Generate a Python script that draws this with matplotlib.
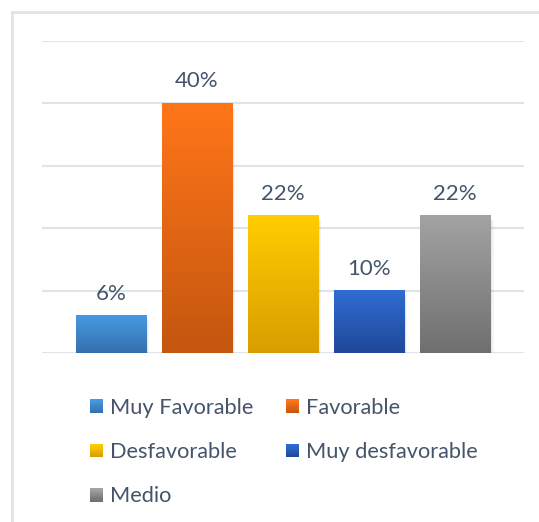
import numpy as np
import matplotlib.pyplot as plt
from matplotlib.colors import LinearSegmentedColormap
from matplotlib.patches import Rectangle
from matplotlib.legend_handler import HandlerBase
from matplotlib.lines import Line2D

plt.rcParams['font.family'] = ['Lato', 'DejaVu Sans']

categorias = ['Muy Favorable', 'Favorable', 'Desfavorable', 'Muy desfavorable', 'Medio']
porcentajes = [6, 40, 22, 10, 22]
# (arriba, abajo) de cada degradado
colores = [('#4799e2', '#3470ae'),
           ('#ff7619', '#c4560f'),
           ('#ffcd00', '#d89e00'),
           ('#306cd2', '#20479a'),
           ('#a3a3a3', '#6f6f6f')]
texto = '#44546a'
rejilla = '#dfe3ea'


class Degradado(HandlerBase):
    def __init__(self, arriba, abajo):
        super().__init__()
        self.arriba, self.abajo = arriba, abajo

    def create_artists(self, legend, orig_handle, xdescent, ydescent,
                       width, height, fontsize, trans):
        cmap = LinearSegmentedColormap.from_list('g', [self.abajo, self.arriba])
        n = 12
        lado = min(width, height)
        arts = []
        for i in range(n):
            r = Rectangle((-xdescent, -ydescent + lado * i / n), lado, lado / n + 0.3,
                          facecolor=cmap(i / (n - 1)), edgecolor='none', transform=trans)
            arts.append(r)
        return arts


fig = plt.figure(figsize=(5.39, 5.22), dpi=100)
ax = fig.add_axes([42 / 539, 1 - 353 / 522, 482 / 539, 312 / 522])

x = np.arange(len(categorias))
barras = ax.bar(x, porcentajes, width=0.82, color='none', zorder=3)

for b, (arriba, abajo), v in zip(barras, colores, porcentajes):
    x0, w, h = b.get_x(), b.get_width(), b.get_height()
    # sombra suave
    for k, a in enumerate([0.06, 0.05, 0.04]):
        ax.add_patch(Rectangle((x0 + 0.012 * (k + 1), -0.25 * (k + 1)), w, h,
                               facecolor='black', alpha=a, edgecolor='none', zorder=2))
    cmap = LinearSegmentedColormap.from_list('g', [abajo, arriba])
    grad = np.linspace(1, 0, 256).reshape(-1, 1)
    ax.imshow(grad, cmap=cmap, extent=[x0, x0 + w, 0, h], aspect='auto',
              zorder=3, interpolation='bicubic')
    ax.annotate(f'{v}%', (x0 + w / 2, h), xytext=(0, 11.5), textcoords='offset points',
                ha='center', va='baseline', fontsize=16, color=texto)

ax.set_xlim(-0.8, len(categorias) - 0.2)
ax.set_ylim(0, 50)
ax.set_yticks(np.arange(0, 51, 10))
ax.yaxis.grid(True, color=rejilla, lw=1.5)
ax.set_axisbelow(True)
ax.tick_params(left=False, bottom=False, labelleft=False, labelbottom=False)
for s in ax.spines.values():
    s.set_visible(False)

# marco del gráfico (solo arriba e izquierda visibles)
fig.add_artist(Line2D([12 / 539, 12 / 539], [0, 1 - 12 / 522], color=rejilla, lw=2))
fig.add_artist(Line2D([12 / 539, 1], [1 - 12 / 522, 1 - 12 / 522], color=rejilla, lw=2))

# leyenda en orden por filas
orden = [0, 2, 4, 1, 3]
handles = [Rectangle((0, 0), 1, 1) for _ in categorias]
hmap = {handles[i]: Degradado(*colores[i]) for i in range(len(categorias))}
fig.legend([handles[i] for i in orden], [categorias[i] for i in orden],
           handler_map=hmap, ncol=2, frameon=False, fontsize=15.7,
           labelcolor=texto, loc='upper left', bbox_to_anchor=(70 / 539, 1 - 378 / 522),
           handlelength=0.6, handleheight=0.6, handletextpad=0.33,
           columnspacing=1.5, labelspacing=1.12)

fig.savefig('out.png', dpi=100)
